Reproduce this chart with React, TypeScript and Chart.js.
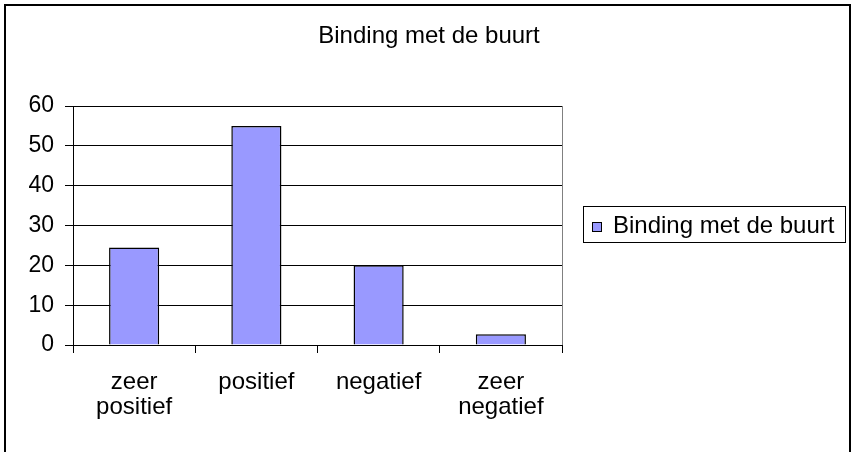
import React, { useEffect, useRef } from "react";
import { Chart, registerables } from "chart.js";

Chart.register(...registerables);

const title = "Binding met de buurt";
const seriesName = "Binding met de buurt";
const categories: string[][] = [["zeer", "positief"], ["positief"], ["negatief"], ["zeer", "negatief"]];
const values: number[] = [24.5, 55, 20, 2.7];
const yTicks: number[] = [0, 10, 20, 30, 40, 50, 60];

const FONT = "Arial, 'Liberation Sans', sans-serif";
const BAR_COLOR = "#9999FF";

const decorPlugin = {
  id: "decor",
  beforeDraw(chart: any) {
    const ctx = chart.ctx;
    ctx.save();
    ctx.fillStyle = "#fff";
    ctx.fillRect(0, 0, chart.width, chart.height);
    ctx.restore();
  },
  afterDraw(chart: any) {
    const ctx = chart.ctx;
    const ca = chart.chartArea;
    ctx.save();
    // plot area right border
    ctx.strokeStyle = "#808080";
    ctx.lineWidth = 1;
    ctx.beginPath();
    ctx.moveTo(Math.round(ca.right) + 0.5, ca.top);
    ctx.lineTo(Math.round(ca.right) + 0.5, ca.bottom);
    ctx.stroke();
    // outer border
    ctx.strokeStyle = "#000";
    ctx.lineWidth = 2;
    ctx.strokeRect(5, 5, 845, 470);
    // title
    ctx.fillStyle = "#000";
    ctx.font = `24px ${FONT}`;
    ctx.textAlign = "center";
    ctx.textBaseline = "alphabetic";
    ctx.fillText(title, 429, 43);
    // legend
    ctx.lineWidth = 1;
    ctx.strokeStyle = "#000";
    ctx.strokeRect(583.5, 206.5, 262, 36);
    ctx.fillStyle = BAR_COLOR;
    ctx.fillRect(592, 222, 9, 9);
    ctx.strokeRect(592.5, 222.5, 9, 9);
    ctx.fillStyle = "#000";
    ctx.textAlign = "left";
    ctx.fillText(seriesName, 613, 233);
    ctx.restore();
  },
};

export default function App() {
  const ref = useRef<HTMLCanvasElement | null>(null);
  useEffect(() => {
    if (!ref.current) return;
    const chart = new Chart(ref.current, {
      type: "bar",
      data: {
        labels: categories,
        datasets: [
          {
            label: seriesName,
            data: values,
            backgroundColor: BAR_COLOR,
            borderColor: "#000",
            borderWidth: 1.5,
            barPercentage: 0.41,
            categoryPercentage: 1,
          },
        ],
      },
      options: {
        responsive: false,
        animation: false,
        layout: { padding: { top: 106, right: 289, bottom: 0, left: 0 } },
        plugins: {
          legend: { display: false },
          title: { display: false },
          tooltip: { enabled: false },
        },
        scales: {
          x: {
            grid: {
              display: true,
              drawOnChartArea: false,
              drawTicks: true,
              tickLength: 8,
              color: "#000",
              offset: true,
            },
            border: { display: true, color: "#000", width: 1 },
            ticks: {
              color: "#000",
              font: { family: FONT, size: 24, lineHeight: 1.05 },
              padding: 17,
              maxRotation: 0,
              autoSkip: false,
            },
            afterFit(scale: any) {
              scale.height = 107;
            },
          },
          y: {
            min: 0,
            max: 60,
            afterBuildTicks(scale: any) {
              scale.ticks = yTicks.map((v) => ({ value: v }));
            },
            grid: {
              color: "#000",
              lineWidth: 1,
              drawTicks: true,
              tickLength: 8,
            },
            border: { display: true, color: "#000", width: 1 },
            ticks: {
              color: "#000",
              font: { family: FONT, size: 23 },
              padding: 11,
            },
            afterFit(scale: any) {
              scale.width = 73;
            },
          },
        },
      },
      plugins: [decorPlugin],
    });
    return () => chart.destroy();
  }, []);
  return (
    <div style={{ position: "fixed", left: 0, top: 0, width: 851, height: 452 }}>
      <canvas ref={ref} width={851} height={452} style={{ display: "block" }} />
    </div>
  );
}
